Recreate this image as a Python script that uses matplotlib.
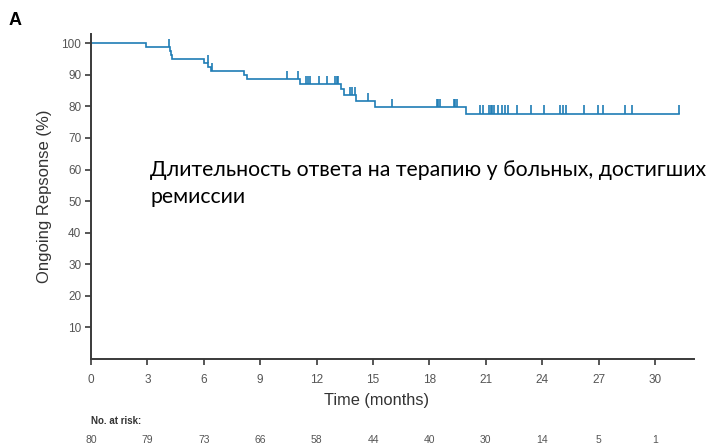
import numpy as np
import matplotlib
matplotlib.use("Agg")
import matplotlib.pyplot as plt

# Kaplan-Meier steps: event time (months) and ongoing response after it (%)
event_months = [2.9, 4.2, 4.25, 4.32, 6.0, 6.22, 6.38, 8.13, 8.28, 11.1,
                13.3, 13.45, 14.12, 15.12, 19.97]
event_levels = [98.75, 97.5, 96.25, 95.0, 93.75, 92.5, 91.2, 90.0, 88.6,
                87.1, 85.5, 83.6, 81.8, 79.9, 77.7]

# Censored observations (months)
censor_months = [4.14, 6.2, 6.45, 10.4, 11.0, 11.41, 11.53, 11.64, 12.12,
                 12.53, 13.0, 13.06, 13.12, 13.8, 13.9, 14.02, 14.73, 16.03,
                 18.38, 18.47, 18.57, 19.3, 19.38, 19.47, 20.71, 20.86,
                 21.18, 21.26, 21.35, 21.44, 21.66, 21.84, 22.01, 22.19,
                 22.64, 23.38, 24.09, 24.94, 25.1, 25.26, 26.22, 26.98,
                 27.24, 28.4, 28.75, 31.29]
last_month = 31.29

risk_months = [0, 3, 6, 9, 12, 15, 18, 21, 24, 27, 30]
at_risk = [80, 79, 73, 66, 58, 44, 40, 30, 14, 5, 1]

line_color = "#1f7db5"
axis_color = "#3a3a3a"
tick_color = "#555555"
sans = ["Liberation Sans", "DejaVu Sans"]

fig = plt.figure(figsize=(7.17, 4.48), dpi=100)
ax = fig.add_axes([0.1269, 0.1987, 0.8410, 0.7259])

# step curve
xs = [0.0] + event_months + [last_month]
ys = [100.0] + event_levels + [event_levels[-1]]
ax.step(xs, ys, where="post", color=line_color, lw=1.2, solid_joinstyle="miter")

# censor ticks sit on the curve and point upward
steps_x = np.array([0.0] + event_months)
steps_y = np.array([100.0] + event_levels)
idx = np.searchsorted(steps_x, censor_months, side="right") - 1
base = steps_y[idx]
ax.vlines(censor_months, base, base + 2.6, color=line_color, lw=1.2)

ax.set_xlim(0, 32.07)
ax.set_ylim(0, 103)
ax.set_xticks(risk_months)
ax.set_yticks(range(10, 101, 10))

for side in ("top", "right"):
    ax.spines[side].set_visible(False)
for side in ("left", "bottom"):
    ax.spines[side].set_color(axis_color)
    ax.spines[side].set_linewidth(1.4)

ax.tick_params(direction="out", length=4, width=1.2, color=axis_color,
               labelcolor=tick_color, labelsize=8.5)
ax.tick_params(axis="x", pad=7)
ax.tick_params(axis="y", pad=3)
for lab in ax.get_xticklabels() + ax.get_yticklabels():
    lab.set_family(sans)

ax.set_xlabel("Time (months)", fontsize=11.8, family=sans, color="#333333",
              labelpad=4)
ax.xaxis.set_label_coords(0.473, -0.105)
ax.set_ylabel("Ongoing Repsonse (%)", fontsize=12, family=sans,
              color="#333333")
ax.yaxis.set_label_coords(-0.065, 0.50)

# panel letter
fig.text(0.012, 0.955, "A", fontsize=13, fontweight="bold", color="black",
         family=sans, va="center")

# annotation inside the plot
fig.text(150 / 717, 1 - 160 / 448,
         "Длительность ответа на терапию у больных, достигших\nремиссии",
         fontsize=15.3, family=["Lato", "Open Sans", "DejaVu Sans"],
         color="black", va="top", ha="left", linespacing=1.45)

# number at risk table
fig.text(91 / 717, 1 - 421 / 448, "No. at risk:", fontsize=7, fontweight="bold",
         family=sans, color="#333333", va="center", ha="left")
for m, n in zip(risk_months, at_risk):
    ax.annotate(str(n), xy=(m, 0), xycoords=("data", "axes fraction"),
                xytext=(0, -58), textcoords="offset points", ha="center",
                va="center", fontsize=7.5, family=sans, color=tick_color,
                annotation_clip=False)

fig.savefig("out.png", dpi=100)
